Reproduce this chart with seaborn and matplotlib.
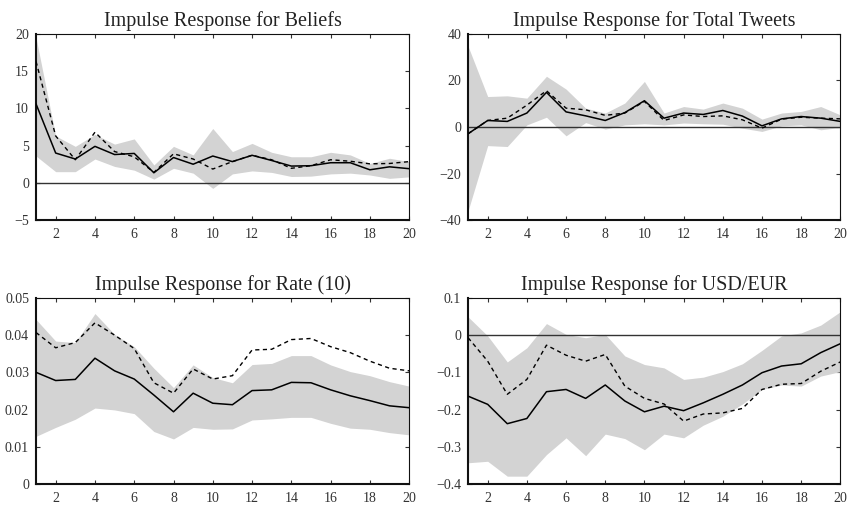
import numpy as np
import pandas as pd
import matplotlib
matplotlib.use("Agg")
import matplotlib.pyplot as plt
import seaborn as sns
from matplotlib.ticker import FuncFormatter

sns.set_style("ticks")
plt.rcParams['font.family'] = ['Liberation Serif', 'DejaVu Serif']

horizon = list(range(1, 21))

# Beliefs
beliefs_irf = [10.6, 4.0, 3.2, 4.9, 3.8, 3.95, 1.35, 3.4, 2.5, 3.6, 2.85, 3.7, 3.0, 2.25, 2.3, 2.7, 2.7, 1.75, 2.15, 1.9]
beliefs_alt = [16.3, 6.3, 3.1, 6.8, 4.2, 3.5, 1.4, 3.9, 3.2, 1.85, 2.85, 3.7, 3.1, 1.95, 2.3, 3.1, 2.9, 2.55, 2.6, 2.85]
beliefs_hi = [19.5, 6.3, 4.9, 6.5, 5.2, 5.9, 2.4, 4.9, 3.75, 7.3, 4.2, 5.3, 4.1, 3.5, 3.5, 4.1, 3.75, 2.6, 3.3, 2.85]
beliefs_lo = [3.6, 1.5, 1.5, 3.2, 2.2, 1.7, 0.5, 1.95, 1.3, -0.75, 1.2, 1.6, 1.4, 0.85, 0.9, 1.2, 1.3, 1.05, 0.6, 0.8]

# Total tweets
tweets_irf = [-2.9, 2.8, 2.4, 6.0, 14.9, 6.5, 4.8, 2.8, 6.2, 11.3, 3.8, 6.0, 5.4, 7.1, 4.7, 0.5, 3.5, 4.5, 3.8, 2.4]
tweets_alt = [-2.9, 2.8, 3.8, 9.4, 15.6, 8.1, 7.4, 5.0, 6.0, 11.0, 2.8, 5.2, 4.5, 4.8, 3.1, -0.5, 3.4, 4.2, 3.8, 3.5]
tweets_hi = [34.7, 13.1, 13.4, 12.4, 21.8, 16.3, 8.1, 6.0, 10.3, 19.6, 6.0, 8.8, 7.7, 10.3, 8.1, 3.4, 6.0, 6.7, 8.8, 5.2]
tweets_lo = [-36.0, -8.0, -8.4, 0.9, 4.2, -3.8, 1.9, -0.9, 0.9, 1.4, 0.9, 1.7, 1.4, 1.2, -0.5, -1.9, 0.5, 0.9, -1.2, -0.2]

# Rate (10)
rate_irf = [0.0300, 0.0278, 0.0281, 0.0338, 0.0304, 0.0282, 0.0239, 0.0194, 0.0244, 0.0217, 0.0213, 0.0251, 0.0253, 0.0273, 0.0272, 0.0253, 0.0237, 0.0224, 0.0210, 0.0205]
rate_alt = [0.0407, 0.0366, 0.0380, 0.0433, 0.0400, 0.0364, 0.0272, 0.0244, 0.0309, 0.0282, 0.0291, 0.0360, 0.0362, 0.0388, 0.0391, 0.0369, 0.0353, 0.0330, 0.0311, 0.0304]
rate_hi = [0.0442, 0.0384, 0.0380, 0.0458, 0.0402, 0.0369, 0.0311, 0.0259, 0.0320, 0.0286, 0.0272, 0.0321, 0.0324, 0.0345, 0.0345, 0.0320, 0.0302, 0.0291, 0.0275, 0.0263]
rate_lo = [0.0128, 0.0152, 0.0174, 0.0204, 0.0199, 0.0189, 0.0141, 0.0121, 0.0152, 0.0147, 0.0148, 0.0172, 0.0175, 0.0179, 0.0179, 0.0163, 0.0150, 0.0147, 0.0138, 0.0132]

# USD/EUR
fx_irf = [-0.164, -0.186, -0.238, -0.224, -0.152, -0.146, -0.170, -0.134, -0.177, -0.206, -0.191, -0.203, -0.182, -0.159, -0.134, -0.101, -0.083, -0.077, -0.047, -0.023]
fx_alt = [-0.007, -0.070, -0.159, -0.119, -0.027, -0.054, -0.070, -0.052, -0.137, -0.170, -0.185, -0.231, -0.212, -0.209, -0.197, -0.146, -0.132, -0.130, -0.097, -0.072]
fx_hi = [0.049, -0.002, -0.072, -0.034, 0.031, 0.002, -0.007, 0.002, -0.056, -0.079, -0.088, -0.119, -0.113, -0.098, -0.077, -0.041, -0.002, 0.006, 0.027, 0.063]
fx_lo = [-0.343, -0.339, -0.379, -0.379, -0.321, -0.276, -0.324, -0.266, -0.278, -0.308, -0.266, -0.276, -0.242, -0.218, -0.185, -0.146, -0.134, -0.137, -0.110, -0.098]

panels = [
    ("Impulse Response for Beliefs", beliefs_irf, beliefs_alt, beliefs_lo, beliefs_hi,
     (-5, 20), [-5, 0, 5, 10, 15, 20], [0.0425, 0.566, 0.440, 0.367], True),
    ("Impulse Response for Total Tweets", tweets_irf, tweets_alt, tweets_lo, tweets_hi,
     (-40, 40), [-40, -20, 0, 20, 40], [0.552, 0.566, 0.439, 0.367], True),
    ("Impulse Response for Rate (10)", rate_irf, rate_alt, rate_lo, rate_hi,
     (0, 0.05), [0, 0.01, 0.02, 0.03, 0.04, 0.05], [0.0425, 0.0454, 0.440, 0.367], False),
    ("Impulse Response for USD/EUR", fx_irf, fx_alt, fx_lo, fx_hi,
     (-0.4, 0.1), [-0.4, -0.3, -0.2, -0.1, 0, 0.1], [0.552, 0.0454, 0.439, 0.367], True),
]

fmt = FuncFormatter(lambda v, p: f"{v:g}".replace("-", "\u2212") if abs(v) > 1e-12 else "0")

fig = plt.figure(figsize=(8.48, 5.07), dpi=100)
for title, irf, alt, lo, hi, ylim, yticks, rect, zero in panels:
    ax = fig.add_axes(rect)
    df = pd.DataFrame({"h": horizon, "irf": irf, "alt": alt})
    ax.fill_between(horizon, lo, hi, color="#d3d3d3", lw=0, zorder=1)
    if zero:
        ax.axhline(0, color="#333333", lw=1.0, zorder=2)
    sns.lineplot(data=df, x="h", y="alt", ax=ax, color="black", lw=1.0,
                 linestyle=(0, (3, 2.5)), zorder=3)
    sns.lineplot(data=df, x="h", y="irf", ax=ax, color="black", lw=1.1, zorder=4)
    ax.set_xlim(1, 20)
    ax.set_ylim(*ylim)
    ax.set_xticks(range(2, 21, 2))
    ax.set_yticks(yticks)
    ax.yaxis.set_major_formatter(fmt)
    ax.set_xlabel("")
    ax.set_ylabel("")
    ax.tick_params(direction="in", top=True, right=True, length=3, width=0.8,
                   labelsize=10, colors="#333333")
    ax.tick_params(axis="x", pad=6)
    ax.tick_params(axis="y", pad=5)
    for side in ["left", "bottom"]:
        ax.spines[side].set_linewidth(1.5)
    for side in ["top", "right"]:
        ax.spines[side].set_linewidth(0.8)
    for s in ax.spines.values():
        s.set_color("#111111")
    ax.set_title(title, fontsize=14.5, pad=6, color="#222222")

fig.savefig("out.png", dpi=100)
